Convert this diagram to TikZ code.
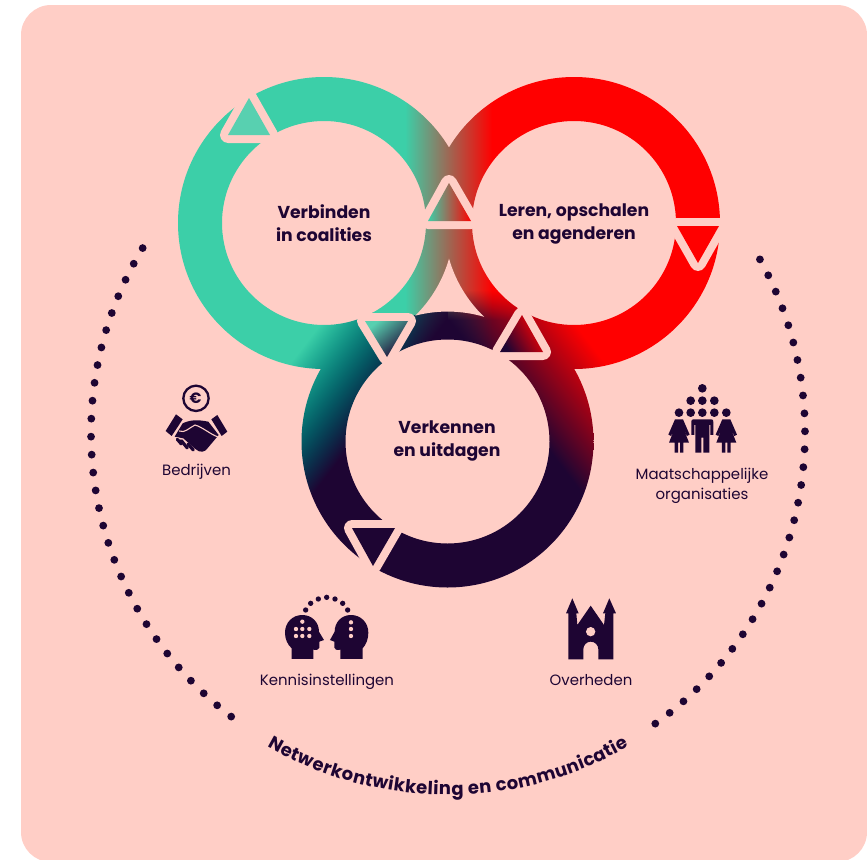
\documentclass[tikz,border=0pt]{standalone}
\usepackage{fontspec}
\usetikzlibrary{decorations.text}
\setmainfont{Poppins}
\newfontfamily\labfont{Poppins}
\definecolor{bgc}{HTML}{FFCEC6}
\definecolor{ink}{HTML}{1E0533}
\definecolor{grn}{HTML}{3CCFA8}
\definecolor{lgrn}{HTML}{58D0B0}
\definecolor{rd}{HTML}{FF0000}
\pgfdeclarefunctionalshading{ringfield}{\pgfpointorigin}{\pgfpoint{867bp}{860bp}}{}{
860 exch sub
1 index 447.5 lt {
 1 index 1.3 mul 1 index add 740 sub 160 div
 dup 0 lt {pop 0} if dup 1 gt {pop 1} if
 2 index 372 ge 2 index 360 lt and {
  2 index 447.5 sub dup mul
  2 index 441.5 sub dup mul add
  17161 gt {pop 0} if
 } if
} {
 895 2 index sub 1.3 mul 1 index add 740 sub 160 div
 dup 0 lt {pop 0} if dup 1 gt {pop 1} if
 1 index 290 sub 30 div
 dup 0 lt {pop 0} if dup 1 gt {pop 1} if
 mul
} ifelse
2 index 405 sub 87 div
dup 0 lt {pop 0} if dup 1 gt {pop 1} if
dup 0.765 mul 0.235 add 2 index 1 exch sub mul 2 index 0.118 mul add
2 index 1 3 index sub mul 1 4 index sub mul 0.6 mul sub 3 1 roll
dup -0.812 mul 0.812 add 2 index 1 exch sub mul 2 index 0.02 mul add 3 1 roll
dup -0.659 mul 0.659 add 2 index 1 exch sub mul 2 index 0.2 mul add 3 1 roll
pop pop
5 -2 roll pop pop
}
\tikzset{
 mainlabel/.style={font=\labfont\bfseries\fontsize{17.3}{23.5}\selectfont,text=ink,align=center,inner sep=0pt},
 smalllabel/.style={font=\labfont\fontsize{15}{20}\selectfont,text=ink,align=center,inner sep=0pt},
 triback/.style={draw=bgc,line width=16bp,line join=round,fill=bgc},
 arcdot/.style={fill=ink,draw=none},
 holefill/.style={fill=bgc,draw=none},
 inkfill/.style={fill=ink,draw=none},
 cutline/.style={draw=bgc,line width=1.1bp,line cap=round},
 iconscope/.style={x=0.3333bp,y=-0.3333bp},
}
\newcommand{\ringpaint}[1]{%
 \begin{scope}[even odd rule]
  \clip (#1) circle[radius=146] (#1) circle[radius=102];
  \pgftext[left,bottom,at=\pgfpointxy{0}{860}]{\pgfuseshading{ringfield}}
 \end{scope}}
\begin{document}
\begin{tikzpicture}[x=1bp,y=-1bp]
\useasboundingbox (0,0) rectangle (867,860);
\fill[white] (0,0) rectangle (867,860);
\begin{scope}
\clip (0,0) rectangle (867,860);
\fill[bgc,rounded corners=30bp] (21,5) rectangle (867,862);
\end{scope}
% rings
\coordinate (cg) at (324,223);
\coordinate (cr) at (574,223);
\coordinate (cd) at (447.5,441.5);
\ringpaint{cg}
\ringpaint{cr}
\ringpaint{cd}
% centre gap
\coordinate (gapa) at (449,258.7);
\fill[bgc] (gapa) arc[start angle=15.9,end angle=45.4,radius=130]
 arc[start angle=-104.4,end angle=-73.7,radius=130]
 arc[start angle=133.8,end angle=164.1,radius=130] -- cycle;
% arrowheads
\coordinate (t1a) at (249,98); \coordinate (t1b) at (228,135); \coordinate (t1c) at (270,135);
\draw[triback] (t1a)--(t1b)--(t1c)--cycle;
\fill[lgrn] (t1a)--(t1b)--(t1c)--cycle;
\coordinate (t2a) at (449,183); \coordinate (t2b) at (428,221); \coordinate (t2c) at (471,221);
\draw[triback] (t2a)--(t2b)--(t2c)--cycle;
\shade[left color=grn,right color=rd] (t2a)--(t2b)--(t2c)--cycle;
\coordinate (t3a) at (698,263); \coordinate (t3b) at (677,226); \coordinate (t3c) at (719,226);
\draw[triback] (t3a)--(t3b)--(t3c)--cycle;
\fill[rd] (t3a)--(t3b)--(t3c)--cycle;
\coordinate (t4a) at (522,315); \coordinate (t4b) at (500,352); \coordinate (t4c) at (543,352);
\draw[triback] (t4a)--(t4b)--(t4c)--cycle;
\shade[top color=rd,bottom color=ink,shading angle=-60] (t4a)--(t4b)--(t4c)--cycle;
\coordinate (t5a) at (387,357); \coordinate (t5b) at (365,321); \coordinate (t5c) at (408,321);
\draw[triback] (t5a)--(t5b)--(t5c)--cycle;
\shade[top color=lgrn,bottom color=ink,shading angle=40] (t5a)--(t5b)--(t5c)--cycle;
\coordinate (t6a) at (373,566); \coordinate (t6b) at (352,528); \coordinate (t6c) at (395,528);
\draw[triback] (t6a)--(t6b)--(t6c)--cycle;
\fill[ink] (t6a)--(t6b)--(t6c)--cycle;
% dotted arcs
\foreach \i in {0,...,29}{
 \fill[arcdot] ({448+357*cos(211.2-\i*83.8/29)},{433+357*sin(211.2-\i*83.8/29)}) circle[radius=3.9];
 \fill[arcdot] ({448+357*cos(-29.1+\i*83.6/29)},{433+357*sin(-29.1+\i*83.6/29)}) circle[radius=3.9];
}
% curved text
\coordinate (tcs) at ({448+362*cos(125)},{433+362*sin(125)});
\path[decorate,decoration={text along path,text align=center,
 text={|\labfont\bfseries\fontsize{18}{18}\selectfont\color{ink}\kern0.45bp|Netwerkontwikkeling en communicatie}}]
 (tcs) arc[start angle=125,end angle=55,radius=362];
% texts
\node[mainlabel] (verb) at (324,223) {Verbinden\\in coalities};
\node[mainlabel] (lere) at (574,224) {Leren, opschalen\\en agenderen};
\node[mainlabel] (verk) at (447,441) {Verkennen\\en uitdagen};
\node[smalllabel] (bedr) at (196.5,472) {Bedrijven};
\node[smalllabel] (maat) at (702,486) {Maatschappelijke\\organisaties};
\node[smalllabel] (kenn) at (327,682) {Kennisinstellingen};
\node[smalllabel] (over) at (591,680) {Overheden};
% euro + handshake
\begin{scope}[shift={(140,370)},iconscope]
 \draw[ink,line width=2.3bp] (168,85) circle[radius=38];
 \node[font=\labfont\bfseries\fontsize{15}{15}\selectfont,text=ink,inner sep=0pt] (eur) at (167,86) {€};
 \fill[inkfill] (108,133)--(128,148)--(95,198)--(77,183)--cycle;
 \fill[inkfill] (232,135)--(262,185)--(245,198)--(214,148)--cycle;
 \fill[inkfill] (128,160) .. controls (150,150) and (170,148) .. (205,155) -- (236,195)
  -- (205,232) .. controls (195,248) and (180,250) .. (165,236) -- (130,205) -- (104,200) -- cycle;
 \draw[cutline] (118,183) .. controls (135,190) and (145,175) .. (165,165) .. controls (185,170) and (215,195) .. (232,200);
 \draw[ink,line width=3.2bp,line cap=round] (112,208)--(124,222);
 \draw[ink,line width=3.2bp,line cap=round] (124,212)--(142,234);
 \draw[ink,line width=3.2bp,line cap=round] (144,222)--(160,240);
\end{scope}
% people
\begin{scope}[shift={(630,370)},iconscope]
 \foreach \px/\py in {217/55,182/92,217/92,253/92,147/128,182/128,217/128,253/128,289/128}
  \fill[inkfill] (\px,\py) circle[radius=13];
 \foreach \wx in {147,289}{
  \fill[inkfill] (\wx-12,148) -- (\wx+12,148) -- (\wx+32,194) -- (\wx+24,198) -- (\wx+12,172) -- (\wx+30,218) -- (\wx+13,218)
   -- (\wx+13,248) -- (\wx+3,248) -- (\wx+3,218) -- (\wx-3,218) -- (\wx-3,248) -- (\wx-13,248) -- (\wx-13,218) -- (\wx-30,218)
   -- (\wx-12,172) -- (\wx-24,198) -- (\wx-32,194) -- cycle;
 }
 \fill[inkfill] (190,148) -- (244,148) .. controls (249,148) and (250,151) .. (250,156) -- (250,195) -- (241,195) -- (241,165) -- (238,165) -- (238,248)
  -- (220,248) -- (220,203) -- (214,203) -- (214,248) -- (196,248) -- (196,165) -- (193,165) -- (193,195) -- (184,195) -- (184,156) .. controls (184,151) and (185,148) .. (190,148) -- cycle;
\end{scope}
% heads
\begin{scope}[shift={(250,585)},iconscope]
 \fill[inkfill] (125,222) -- (125,190) .. controls (112,178) and (105,162) .. (105,143)
  .. controls (105,112) and (128,90) .. (157,90) .. controls (186,90) and (207,112) .. (207,140)
  -- (222,165) -- (208,170) -- (208,188) .. controls (208,194) and (200,196) .. (190,194) -- (190,222) -- cycle;
 \fill[inkfill] (338,222) -- (338,190) .. controls (349,178) and (355,162) .. (355,143)
  .. controls (355,112) and (332,90) .. (303,90) .. controls (274,90) and (254,112) .. (254,140)
  -- (240,165) -- (253,170) -- (253,188) .. controls (253,194) and (261,196) .. (271,194) -- (271,222) -- cycle;
 \foreach \hx/\hy in {157/110,138/132,157/132,178/132,138/153,157/153,178/153,303/112,303/132,303/153}
  \fill[holefill] (\hx,\hy) circle[radius=6.5];
 \foreach \ax/\ay in {167/75,182/55,205/42,230/37,255/42,278/55,293/75}
  \fill[inkfill] (\ax,\ay) circle[radius=8];
\end{scope}
% church
\begin{scope}[shift={(530,590)},iconscope]
 \fill[inkfill] (115,208) -- (115,70) -- (108,70) -- (127,25) -- (146,70) -- (139,70) -- (142,105)
  -- (182,47) -- (222,105) -- (226,70) -- (219,70) -- (238,25) -- (258,70) -- (250,70) -- (250,208) -- (205,208) -- (205,178)
  .. controls (205,165) and (195,155) .. (182,155) .. controls (170,155) and (160,165) .. (160,178) -- (160,208) -- cycle;
 \fill[holefill] (182,125) circle[radius=14];
\end{scope}
\end{tikzpicture}
\end{document}
